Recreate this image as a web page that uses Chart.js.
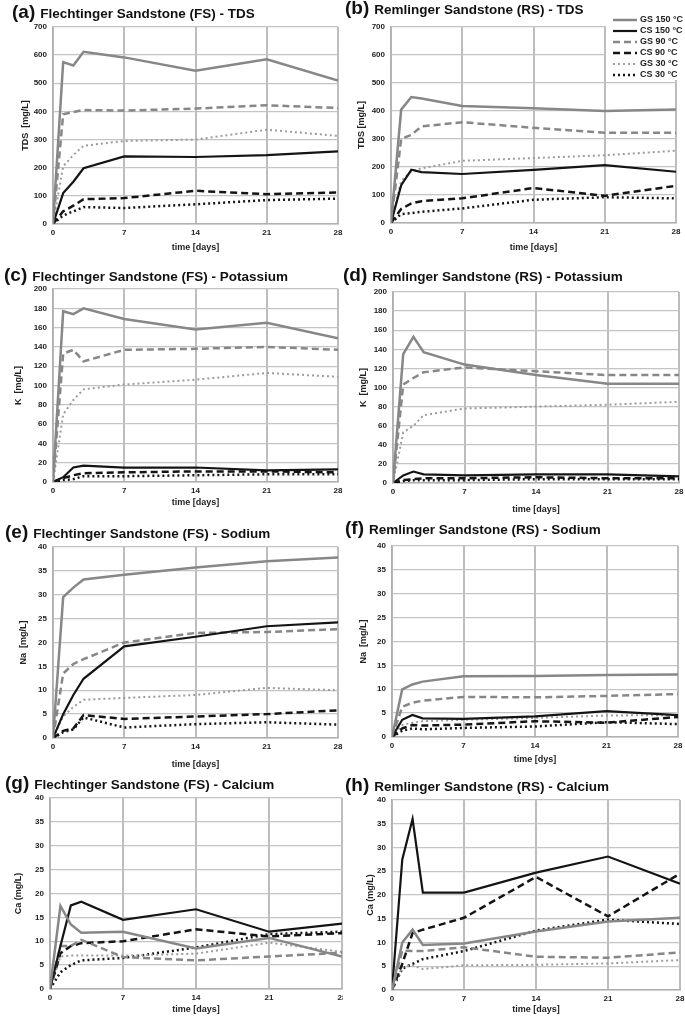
<!DOCTYPE html>
<html>
<head>
<meta charset="utf-8">
<script src="https://cdn.jsdelivr.net/npm/chart.js@4"></script>
<style>
  body { margin: 0; background: #fff; width: 685px; height: 1020px; position: relative; overflow: hidden; font-family: "Liberation Sans", Arial, sans-serif; }
  canvas { position: absolute; }
  .ttl { position: absolute; font-weight: bold; font-size: 13.5px; color: #111; white-space: nowrap; line-height: 20px; }
  .ttl span { font-size: 19px; margin-right: 5px; }
</style>
</head>
<body>
<script>
// sampling days
const days = [0, 1, 2, 3, 7, 14, 21, 28];

// series order: GS 150, CS 150, GS 90, CS 90, GS 30, CS 30
const seriesNames = ['GS 150 °C', 'CS 150 °C', 'GS 90 °C', 'CS 90 °C', 'GS 30 °C', 'CS 30 °C'];

const tdsFS = [
    [0, 575, 563, 612, 592, 545, 585, 510],
    [0, 110, 150, 198, 240, 238, 245, 258],
    [0, 390, 398, 405, 403, 410, 422, 412],
    [0, 45, 65, 88, 92, 118, 106, 112],
    [0, 205, 245, 278, 295, 300, 335, 313],
    [0, 30, 45, 60, 57, 70, 85, 90]
];
const tdsRS = [
    [0, 405, 450, 445, 418, 410, 400, 405],
    [0, 135, 190, 182, 175, 190, 207, 183],
    [0, 300, 315, 345, 360, 340, 322, 322],
    [0, 50, 70, 78, 88, 125, 97, 133],
    [0, 150, 185, 195, 222, 232, 242, 258],
    [0, 32, 35, 40, 52, 83, 92, 88]
];
const kFS = [
    [0, 177, 174, 180, 169, 158, 165, 149],
    [0, 5, 15, 17, 15, 15, 12, 13],
    [0, 133, 137, 125, 137, 138, 140, 137],
    [0, 4, 7, 9, 10, 11, 11, 10],
    [0, 70, 85, 96, 101, 106, 113, 109],
    [0, 2, 3, 6, 6, 7, 8, 8]
];
const kRS = [
    [0, 135, 153, 137, 124, 113, 104, 104],
    [0, 8, 12, 9, 8, 9, 9, 7],
    [0, 103, 110, 116, 121, 117, 113, 113],
    [0, 3, 4, 5, 5, 6, 5, 5],
    [0, 53, 60, 71, 78, 80, 82, 85],
    [0, 2, 3, 3, 3, 4, 4, 4]
];
const naFS = [
    [0, 29.5, 31.5, 33.2, 34.2, 35.7, 37, 37.8],
    [0, 5, 9, 12.4, 19.2, 21.2, 23.4, 24.2],
    [0, 13.5, 15.5, 16.5, 20, 22, 22.2, 22.8],
    [0, 1.5, 2, 4.8, 4, 4.5, 5, 5.8],
    [0, 4.5, 6.5, 8, 8.4, 9, 10.5, 10],
    [0, 1.2, 1.8, 4.3, 2.2, 2.9, 3.3, 2.8]
];
const naRS = [
    [0, 10, 11, 11.6, 12.7, 12.8, 13, 13.1],
    [0, 3.6, 4.6, 3.9, 3.8, 4.3, 5.4, 4.6],
    [0, 6.3, 7.2, 7.6, 8.4, 8.3, 8.6, 9],
    [0, 1.8, 2.5, 2.4, 2.6, 3.3, 3, 4.2],
    [0, 2.5, 3, 3.3, 3.6, 4, 4.5, 4.6],
    [0, 1.3, 1.8, 1.6, 1.9, 2.2, 3.1, 2.7]
];
const caFS = [
    [0, 17.4, 13.5, 11.8, 12, 8.5, 10.7, 6.8],
    [0, 9, 17.5, 18.3, 14.5, 16.7, 12, 13.7],
    [0, 9, 9, 10.3, 6.7, 6, 6.8, 7.6],
    [0, 7.5, 9, 9.6, 10, 12.5, 11, 11.7],
    [0, 6.8, 7, 7, 7, 7.4, 9.7, 7.8],
    [0, 3.5, 5, 6, 6.5, 8.7, 11.5, 12]
];
const caRS = [
    [0, 10, 12.7, 9.5, 9.8, 12.3, 14.4, 15.2],
    [0, 27.5, 36, 20.5, 20.5, 24.7, 28.1, 22.4],
    [0, 8.3, 8.2, 8.2, 9, 7, 6.8, 7.9],
    [0, 5.5, 12, 12.7, 15.2, 23.8, 15.5, 24.5],
    [0, 4.8, 5.2, 4.4, 5.2, 5.3, 5.6, 6.3],
    [0, 4.5, 5.5, 6.5, 8.2, 12.5, 14.8, 13.9]
];

// line look per series (same order as seriesNames)
const lineStyles = [
    { color: '#878787', width: 2.5, dash: [] },
    { color: '#141414', width: 2.2, dash: [] },
    { color: '#878787', width: 2.5, dash: [7, 4] },
    { color: '#141414', width: 2.5, dash: [7, 4] },
    { color: '#9c9c9c', width: 2, dash: [2, 3] },
    { color: '#141414', width: 2.5, dash: [2, 3] }
];

const paneles = [
    { tag: '(a)', titulo: 'Flechtinger Sandstone (FS) - TDS', yTitulo: 'TDS  [mg/L]', xTitulo: 'time [days]', datos: tdsFS, max: 700, paso: 100,
      g: { left: 0, top: 20, w: 343, h: 238, padL: 16, padT: 7, padR: 5, yW: 37, xH: 34 }, t: { x: 12, y: 2 } },
    { tag: '(b)', titulo: 'Remlinger Sandstone (RS) - TDS', yTitulo: 'TDS [mg/L]', xTitulo: 'time [days]', datos: tdsRS, max: 700, paso: 100,
      g: { left: 343, top: 10, w: 342, h: 248, padL: 9, padT: 17, padR: 9, yW: 39, xH: 35 }, t: { x: 345, y: -2 }, leyenda: true },
    { tag: '(c)', titulo: 'Flechtinger Sandstone (FS) - Potassium', yTitulo: 'K  [mg/L]', xTitulo: 'time [days]', datos: kFS, max: 200, paso: 20,
      g: { left: 0, top: 280, w: 343, h: 233, padL: 9, padT: 9, padR: 5, yW: 44, xH: 31 }, t: { x: 4, y: 265 } },
    { tag: '(d)', titulo: 'Remlinger Sandstone (RS) - Potassium', yTitulo: 'K  [mg/L]', xTitulo: 'time [days]', datos: kRS, max: 200, paso: 20,
      g: { left: 343, top: 283, w: 342, h: 237, padL: 11, padT: 9, padR: 6, yW: 39, xH: 37 }, t: { x: 343, y: 265 } },
    { tag: '(e)', titulo: 'Flechtinger Sandstone (FS) - Sodium', yTitulo: 'Na  [mg/L]', xTitulo: 'time [days]', datos: naFS, max: 40, paso: 5,
      g: { left: 0, top: 540, w: 343, h: 235, padL: 14, padT: 7, padR: 5, yW: 39, xH: 37 }, t: { x: 5, y: 522 } },
    { tag: '(f)', titulo: 'Remlinger Sandstone (RS) - Sodium', yTitulo: 'Na  [mg/L]', xTitulo: 'time [dys]', datos: naRS, max: 40, paso: 5,
      g: { left: 343, top: 539, w: 342, h: 231, padL: 11, padT: 7, padR: 7, yW: 38, xH: 33 }, t: { x: 345, y: 518 } },
    { tag: '(g)', titulo: 'Flechtinger Sandstone (FS) - Calcium', yTitulo: 'Ca (mg/L)', xTitulo: 'time [days]', datos: caFS, max: 40, paso: 5,
      g: { left: 0, top: 790, w: 343, h: 230, padL: 9, padT: 8, padR: 1, yW: 41, xH: 31 }, t: { x: 5, y: 773 } },
    { tag: '(h)', titulo: 'Remlinger Sandstone (RS) - Calcium', yTitulo: 'Ca (mg/L)', xTitulo: 'time [days]', datos: caRS, max: 40, paso: 5,
      g: { left: 343, top: 792, w: 342, h: 228, padL: 18, padT: 8, padR: 5, yW: 31, xH: 30 }, t: { x: 345, y: 775 } }
];

const fuenteTicks = { family: '"Liberation Sans Narrow", "Liberation Sans", Arial', size: 8, weight: 'bold' };
const fuenteTitulo = { family: '"Liberation Sans", Arial', size: 9, weight: 'bold' };

// legend box drawn inside panel (b), top right
const cajaLeyenda = {
    id: 'cajaLeyenda',
    afterDraw(chart) {
        const ctx = chart.ctx;
        ctx.save();
        ctx.fillStyle = '#fff';
        ctx.fillRect(263, 3, 79, 67);
        chart.data.datasets.forEach((ds, i) => {
            const y = 10 + i * 11;
            ctx.strokeStyle = ds.borderColor;
            ctx.lineWidth = ds.borderWidth;
            ctx.setLineDash(ds.borderDash);
            ctx.beginPath();
            ctx.moveTo(270, y);
            ctx.lineTo(294, y);
            ctx.stroke();
            ctx.setLineDash([]);
            ctx.fillStyle = '#222';
            ctx.font = 'bold 9px "Liberation Sans", Arial';
            ctx.textBaseline = 'middle';
            ctx.fillText(ds.label, 297, y);
        });
        ctx.restore();
    }
};

function dibujarPanel(p) {
    const g = p.g;
    const titulo = document.createElement('div');
    titulo.className = 'ttl';
    titulo.style.left = p.t.x + 'px';
    titulo.style.top = p.t.y + 'px';
    titulo.innerHTML = '<span>' + p.tag + '</span>' + p.titulo;

    const lienzo = document.createElement('canvas');
    lienzo.width = g.w;
    lienzo.height = g.h;
    lienzo.style.left = g.left + 'px';
    lienzo.style.top = g.top + 'px';
    document.body.appendChild(lienzo);
    document.body.appendChild(titulo);

    const datasets = p.datos.map((serie, i) => ({
        label: seriesNames[i],
        data: serie.map((v, j) => ({ x: days[j], y: v })),
        borderColor: lineStyles[i].color,
        borderWidth: lineStyles[i].width,
        borderDash: lineStyles[i].dash,
        borderCapStyle: 'butt',
        pointRadius: 0,
        tension: 0,
        fill: false
    }));

    new Chart(lienzo, {
        type: 'line',
        data: { datasets: datasets },
        plugins: p.leyenda ? [cajaLeyenda] : [],
        options: {
            animation: false,
            responsive: false,
            devicePixelRatio: 1,
            layout: { padding: { left: g.padL, top: g.padT, right: g.padR, bottom: 0 } },
            plugins: { legend: { display: false }, tooltip: { enabled: false } },
            scales: {
                x: {
                    type: 'linear',
                    min: 0,
                    max: 28,
                    ticks: { stepSize: 7, padding: 4, color: '#222', font: fuenteTicks, maxRotation: 0 },
                    grid: { color: '#bdbdbd', lineWidth: 2, drawTicks: false },
                    border: { color: '#b0b0b0', width: 1.5 },
                    title: { display: true, text: p.xTitulo, color: '#222', font: fuenteTitulo, padding: { top: 0, bottom: 5 } },
                    afterFit: s => { s.height = g.xH; s.paddingLeft = 0; s.paddingRight = 0; }
                },
                y: {
                    min: 0,
                    max: p.max,
                    ticks: { stepSize: p.paso, padding: 6, color: '#222', font: fuenteTicks },
                    grid: { color: '#c4c4c4', lineWidth: 1.3, drawTicks: false },
                    border: { color: '#b0b0b0', width: 1.5 },
                    title: { display: true, text: p.yTitulo, color: '#222', font: fuenteTitulo, padding: { top: 4, bottom: 0 } },
                    afterFit: s => { s.width = g.yW; s.paddingTop = 0; s.paddingBottom = 0; }
                }
            }
        }
    });
}

paneles.forEach(dibujarPanel);
</script>
</body>
</html>
